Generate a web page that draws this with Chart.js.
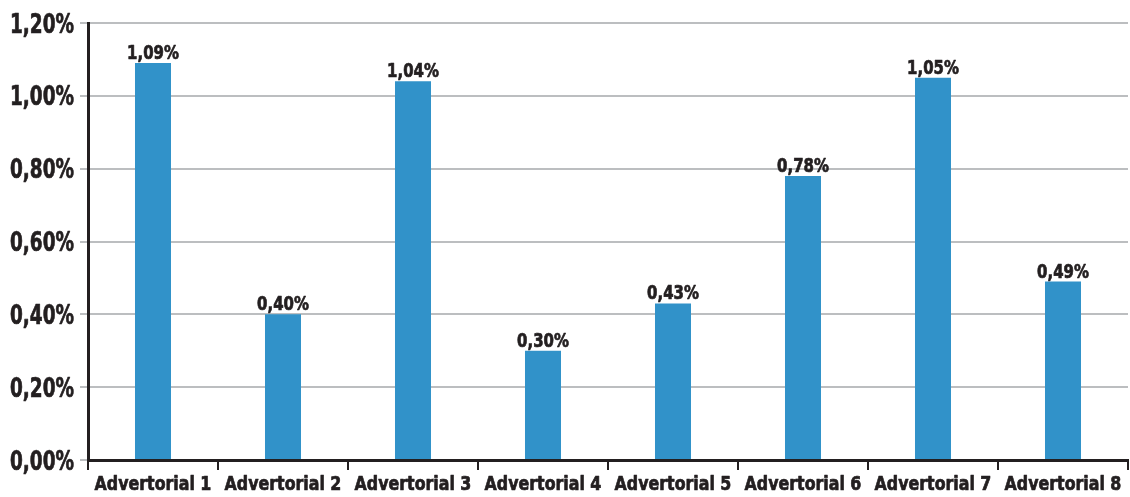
<!DOCTYPE html>
<html>
<head>
<meta charset="utf-8">
<script src="https://cdn.jsdelivr.net/npm/chart.js@4"></script>
<style>
  html, body { margin: 0; padding: 0; background: #fff; }
  #wrap { width: 1130px; height: 497px; }
</style>
</head>
<body>
<div id="wrap"><canvas id="chart"></canvas></div>
<script>
const categories = ['Advertorial 1', 'Advertorial 2', 'Advertorial 3', 'Advertorial 4',
                    'Advertorial 5', 'Advertorial 6', 'Advertorial 7', 'Advertorial 8'];
const values = [1.09, 0.40, 1.04, 0.30, 0.43, 0.78, 1.05, 0.49];
const yTicks = [0, 0.2, 0.4, 0.6, 0.8, 1.0, 1.2];

const FONT = '"DejaVu Sans Condensed", "DejaVu Sans", sans-serif';
const INK = '#231f20';

const fmt = v => v.toFixed(2).replace('.', ',') + '%';

// condensed, heavy text: squeeze horizontally around the anchor point
function squeezed(ctx, text, x, y, sx, align, size) {
    ctx.save();
    ctx.font = 'bold ' + size + 'px ' + FONT;
    ctx.fillStyle = INK;
    ctx.strokeStyle = INK;
    ctx.lineWidth = 0.7;
    ctx.lineJoin = 'round';
    ctx.textAlign = align;
    ctx.textBaseline = 'alphabetic';
    ctx.translate(x, y);
    ctx.scale(sx, 1);
    ctx.fillText(text, 0, 0);
    ctx.strokeText(text, 0, 0);
    ctx.restore();
}

// axis labels + value labels drawn narrow like the original
const textLayer = {
    id: 'textLayer',
    afterDraw(chart) {
        const ctx = chart.ctx;
        const xs = chart.scales.x, ys = chart.scales.y;
        ys.ticks.forEach((t, i) => {
            squeezed(ctx, fmt(t.value), 74, ys.getPixelForTick(i) + 9.5, 0.76, 'right', 27);
        });
        xs.ticks.forEach((t, i) => {
            squeezed(ctx, categories[i], xs.getPixelForTick(i), 490, 0.88, 'center', 20);
        });
        chart.getDatasetMeta(0).data.forEach((bar, i) => {
            squeezed(ctx, fmt(values[i]), bar.x, bar.y - 4, 0.83, 'center', 20);
        });
    }
};

new Chart(document.getElementById('chart'), {
    type: 'bar',
    data: {
        labels: categories,
        datasets: [{
            data: values,
            backgroundColor: '#3192c9',
            barPercentage: 0.277,
            categoryPercentage: 1.0,
        }]
    },
    options: {
        responsive: true,
        maintainAspectRatio: false,
        animation: false,
        layout: { padding: { top: 23, right: 2, left: 0, bottom: 0 } },
        plugins: {
            legend: { display: false },
            tooltip: { enabled: false }
        },
        scales: {
            y: {
                min: 0,
                max: 1.2,
                afterBuildTicks: axis => { axis.ticks = yTicks.map(v => ({ value: v })); },
                afterFit: axis => { axis.width = 88; },
                ticks: { display: false },
                grid: {
                    color: '#bcbec0',
                    lineWidth: 2,
                    tickLength: 8,
                    tickColor: '#bcbec0'
                },
                border: { color: INK, width: 3 }
            },
            x: {
                afterFit: axis => { axis.height = 37; },
                ticks: { display: false },
                grid: {
                    drawOnChartArea: false,
                    drawTicks: true,
                    tickLength: 10,
                    tickColor: INK,
                    lineWidth: 2
                },
                border: { color: INK, width: 3 }
            }
        }
    },
    plugins: [textLayer]
});
</script>
</body>
</html>
